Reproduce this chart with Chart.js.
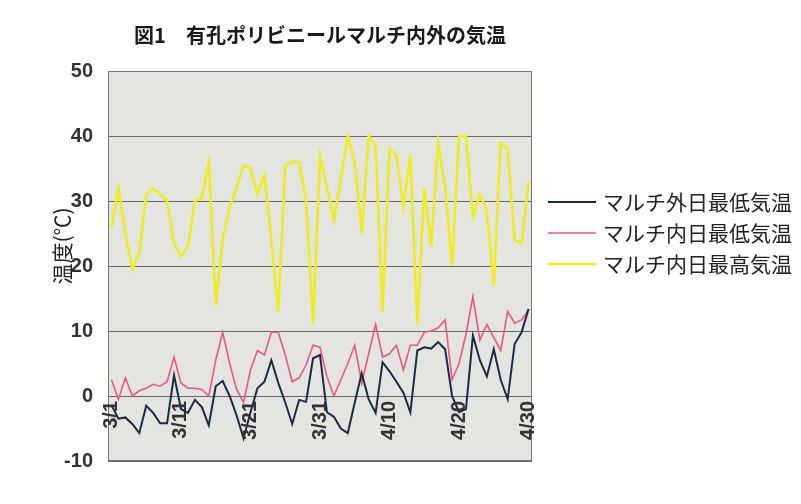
<!DOCTYPE html>
<html>
<head>
<meta charset="utf-8">
<script src="https://cdn.jsdelivr.net/npm/chart.js@4.4.0/dist/chart.umd.min.js"></script>
<style>
  html, body { margin: 0; padding: 0; background: #fff; }
  #wrap { width: 801px; height: 504px; }
</style>
</head>
<body>
<div id="wrap"><canvas id="chart"></canvas></div>
<script>
var days = ['3/1','3/2','3/3','3/4','3/5','3/6','3/7','3/8','3/9','3/10',
  '3/11','3/12','3/13','3/14','3/15','3/16','3/17','3/18','3/19','3/20',
  '3/21','3/22','3/23','3/24','3/25','3/26','3/27','3/28','3/29','3/30',
  '3/31','4/1','4/2','4/3','4/4','4/5','4/6','4/7','4/8','4/9',
  '4/10','4/11','4/12','4/13','4/14','4/15','4/16','4/17','4/18','4/19',
  '4/20','4/21','4/22','4/23','4/24','4/25','4/26','4/27','4/28','4/29','4/30'];
var shownDays = ['3/1','3/11','3/21','3/31','4/10','4/20','4/30'];
var yTicks = [-10, 0, 10, 20, 30, 40, 50];

var outMin = [-1.4, -3.5, -3.3, -4.3, -5.7, -1.5, -2.6, -4.2, -4.2, 3.2,
  -2, -2.6, -0.6, -1.7, -4.5, 1.5, 2.3, 0, -3, -6.5,
  -2.5, 1.2, 2.2, 5.5, 2, -1, -4.3, -0.6, -0.9, 5.8,
  6.3, -2.5, -3.2, -5, -5.7, -1, 3.5, -0.5, -2.6, 5.2,
  3.8, 2.2, 0.5, -2.5, 7, 7.5, 7.3, 8.3, 7.2, 0,
  -2.5, -2, 9.3, 5.5, 3, 7.2, 2.5, -0.5, 8, 9.8, 13.4];
var inMin = [2.5, -0.5, 2.8, 0, 0.8, 1.2, 1.8, 1.5, 2.2, 6,
  2, 1.2, 1.2, 1, 0, 5.5, 9.8, 5, 1, -1,
  4, 7, 6.3, 9.8, 9.8, 6.3, 2.2, 2.8, 4.8, 7.8,
  7.5, 3, 0, 2.5, 5, 7.8, 2, 6.5, 11, 6,
  6.5, 7.8, 4, 7.8, 7.8, 9.8, 10, 10.5, 11.7, 2.5,
  5, 9.5, 15.3, 8.6, 11, 9, 7, 13, 11.2, 11.7, 13.2];
var inMax = [26, 32, 25, 19.5, 22, 31, 32, 31, 30, 23.5,
  21.5, 23, 30, 30.5, 36, 14, 24, 29, 32, 35.5,
  35, 31, 34, 24, 13, 35.5, 36, 36, 30, 11,
  37, 32, 27, 33.5, 40, 36, 25, 40, 38.5, 13,
  38, 37, 29, 37, 11, 32, 23, 39, 32, 20,
  40, 40, 27.5, 31, 28.5, 17, 39, 38, 24, 23.5, 33];

var jpFont = "'Noto Sans CJK JP', 'Noto Sans', sans-serif";

// plot background, frame, day labels on the 0 line, y title, legend
var framePlugin = {
  id: 'frame',
  beforeDraw: function(chart) {
    var a = chart.chartArea, ctx = chart.ctx;
    ctx.save();
    ctx.fillStyle = '#e4e4e1';
    ctx.fillRect(a.left, a.top, a.right - a.left, a.bottom - a.top);
    ctx.restore();
  },
  afterDraw: function(chart) {
    var a = chart.chartArea, ctx = chart.ctx;
    var xs = chart.scales.x, ys = chart.scales.y;
    ctx.save();
    ctx.strokeStyle = '#777';
    ctx.lineWidth = 1;
    ctx.strokeRect(a.left + 0.5, a.top + 0.5, a.right - a.left - 1, a.bottom - a.top - 1);

    var y0 = ys.getPixelForValue(0);
    ctx.fillStyle = '#333';
    ctx.font = "bold 20px 'Liberation Sans', sans-serif";
    ctx.textAlign = 'right';
    ctx.textBaseline = 'middle';
    shownDays.forEach(function(d) {
      var x = xs.getPixelForValue(days.indexOf(d));
      ctx.save();
      ctx.translate(x, y0 + 5);
      ctx.rotate(-Math.PI / 2);
      ctx.fillText(d, 0, 0);
      ctx.restore();
    });

    ctx.save();
    ctx.font = '21px ' + jpFont;
    ctx.fillStyle = '#222';
    ctx.textAlign = 'center';
    ctx.translate(62, 246);
    ctx.rotate(-Math.PI / 2);
    ctx.fillText('温度(℃)', 0, 0);
    ctx.restore();

    // legend
    ctx.font = '21px ' + jpFont;
    ctx.fillStyle = '#222';
    ctx.textAlign = 'left';
    ctx.textBaseline = 'middle';
    chart.data.datasets.forEach(function(ds, i) {
      var cy = a.top + 131 + i * 31;
      ctx.strokeStyle = ds.borderColor;
      ctx.lineWidth = ds.borderWidth;
      ctx.beginPath();
      ctx.moveTo(a.right + 16, cy);
      ctx.lineTo(a.right + 64, cy);
      ctx.stroke();
      ctx.fillText(ds.label, a.right + 71, cy);
    });
    ctx.restore();
  }
};

new Chart(document.getElementById('chart'), {
  type: 'line',
  data: {
    labels: days,
    datasets: [
      { label: 'マルチ外日最低気温', data: outMin, borderColor: '#1e2849', backgroundColor: '#1e2849', borderWidth: 2 },
      { label: 'マルチ内日最低気温', data: inMin, borderColor: '#e85a7f', backgroundColor: '#e85a7f', borderWidth: 1.6 },
      { label: 'マルチ内日最高気温', data: inMax, borderColor: '#eeee22', backgroundColor: '#eeee22', borderWidth: 2.6 }
    ]
  },
  options: {
    responsive: true,
    maintainAspectRatio: false,
    animation: false,
    devicePixelRatio: 1,
    elements: { point: { radius: 0 }, line: { tension: 0 } },
    layout: { padding: { left: 56, right: 269, top: 0, bottom: 43 } },
    scales: {
      x: { display: false, offset: true },
      y: {
        min: -10, max: 50,
        afterBuildTicks: function(s) { s.ticks = yTicks.map(function(v) { return { value: v }; }); },
        afterFit: function(s) { s.width = 52; },
        ticks: { color: '#333', padding: 15, font: { family: "'Liberation Sans', sans-serif", size: 20, weight: 'bold' } },
        grid: { color: '#666', lineWidth: 1, drawTicks: false },
        border: { display: true, color: '#777' }
      }
    },
    plugins: {
      title: {
        display: true,
        fullSize: false,
        text: '図1　有孔ポリビニールマルチ内外の気温',
        color: '#1a1a1a',
        font: { family: jpFont, size: 20, weight: 'bold' },
        padding: { top: 23, bottom: 24 }
      },
      legend: { display: false },
      tooltip: { enabled: false }
    }
  },
  plugins: [framePlugin]
});
</script>
</body>
</html>
